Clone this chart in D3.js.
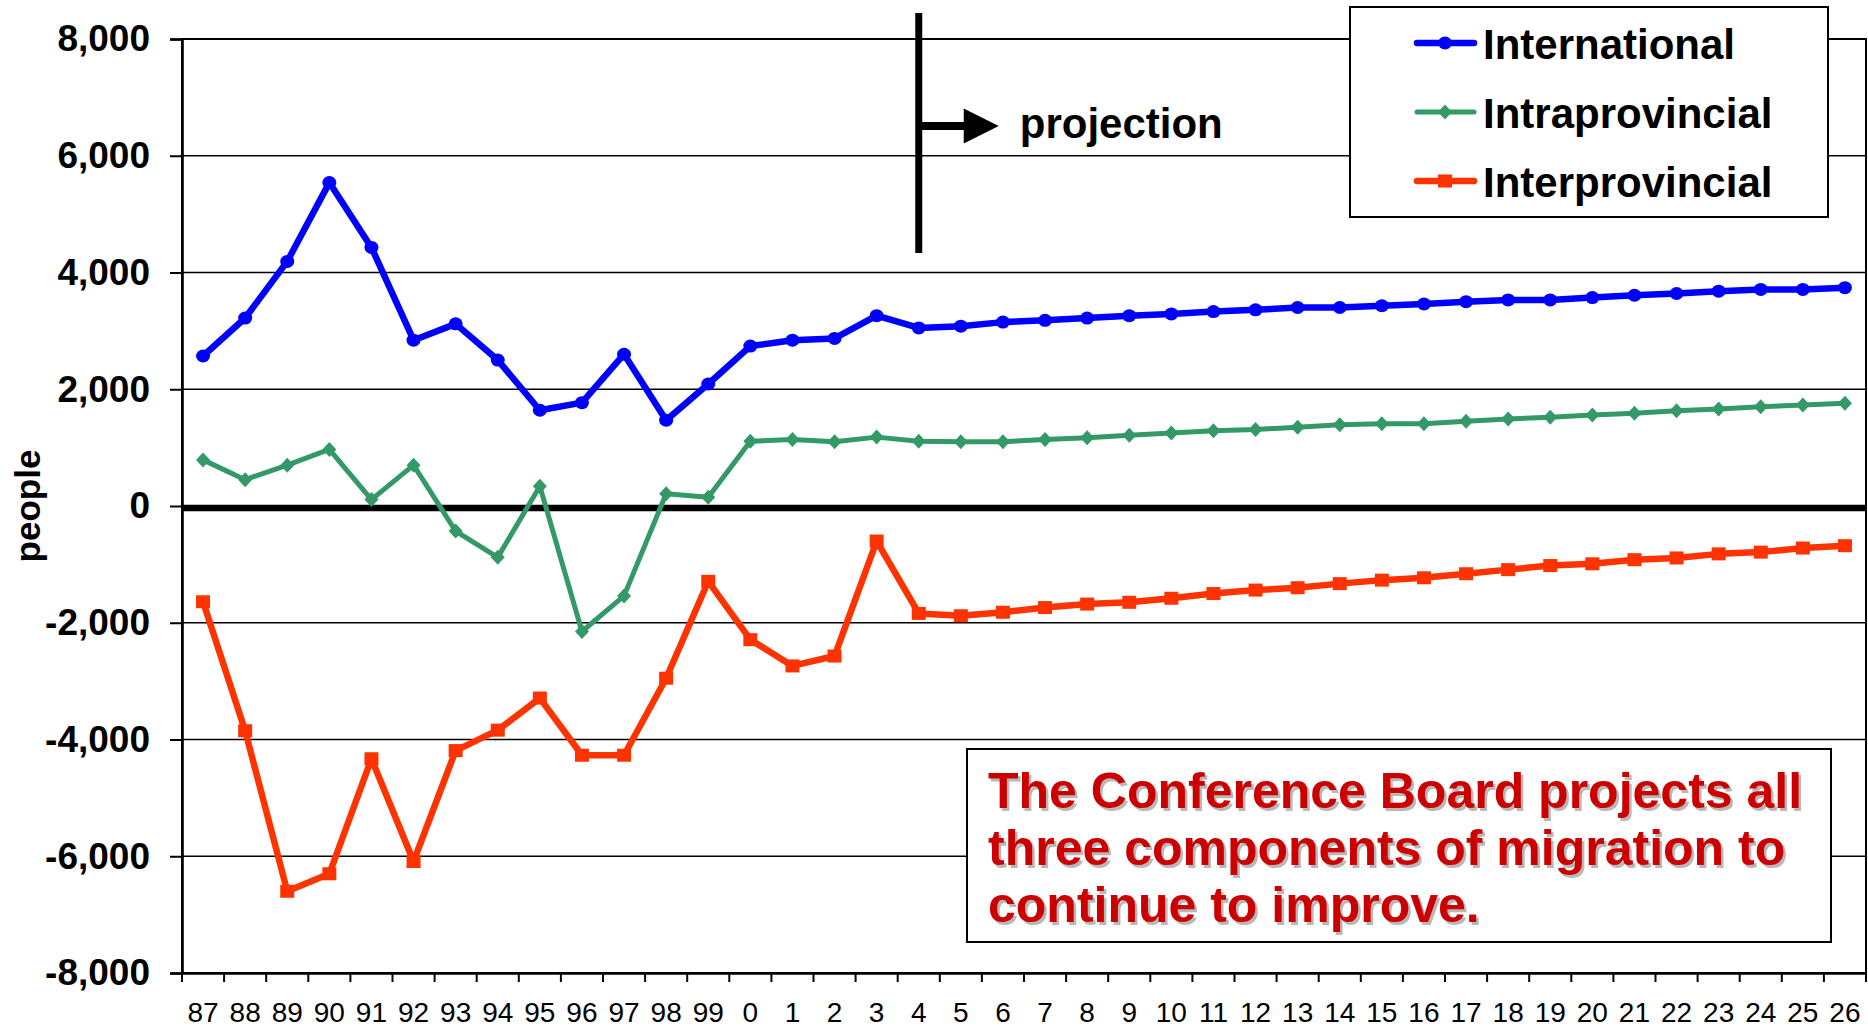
<!DOCTYPE html>
<html>
<head>
<meta charset="utf-8">
<script src="https://d3js.org/d3.v7.min.js"></script>
<style>
  body { margin: 0; background: #fff; }
  text { font-family: "Liberation Sans", Arial, sans-serif; }
</style>
</head>
<body>
<div id="chart"></div>
<script>
// Asks JavaScript to show more errors.
"use strict";

/*
 * # Data
 * Net migration by component, one value per year (87..26).
 */
var years = ["87", "88", "89", "90", "91", "92", "93", "94", "95", "96", "97", "98", "99",
             "0", "1", "2", "3", "4", "5", "6", "7", "8", "9", "10", "11", "12", "13",
             "14", "15", "16", "17", "18", "19", "20", "21", "22", "23", "24", "25", "26"];

var international = [2570, 3220, 4190, 5540, 4430, 2840, 3120, 2500, 1640, 1770, 2600, 1470, 2090,
                     2740, 2840, 2870, 3260, 3050, 3080, 3150, 3180, 3220, 3260, 3290, 3330, 3360, 3400,
                     3400, 3430, 3460, 3500, 3530, 3530, 3570, 3610, 3640, 3680, 3710, 3710, 3740];

var intraprovincial = [790, 450, 700, 970, 110, 700, -430, -880, 340, -2150, -1540, 210, 150,
                       1110, 1140, 1100, 1180, 1110, 1100, 1100, 1140, 1170, 1210, 1250, 1290, 1310, 1350,
                       1390, 1410, 1410, 1450, 1490, 1520, 1560, 1590, 1630, 1660, 1700, 1730, 1760];

var interprovincial = [-1640, -3850, -6600, -6300, -4330, -6090, -4190, -3840, -3290, -4270, -4270, -2950, -1290,
                       -2290, -2740, -2570, -600, -1840, -1880, -1820, -1740, -1680, -1650, -1580, -1500, -1440, -1400,
                       -1330, -1270, -1230, -1160, -1090, -1020, -990, -920, -890, -820, -790, -720, -680];

var yTicks = [-8000, -6000, -4000, -2000, 0, 2000, 4000, 6000, 8000];

var seriesNames = ["International", "Intraprovincial", "Interprovincial"];
var projectionStart = "4";
var noteLines = ["The Conference Board projects all",
                 "three components of migration to",
                 "continue to improve."];

/*
 * # Boilerplate Code for d3.js
 */
var margin = { top: 39, right: 2, bottom: 54, left: 182 },
    width = 1868 - margin.left - margin.right,
    height = 1027 - margin.top - margin.bottom;

var root = d3.select("#chart")
             .append("svg")
             .attr("width", 1868)
             .attr("height", 1027);

var svg = root.append("g")
              .attr("transform", "translate(" + margin.left + "," + margin.top + ")");

/*
 * # Scales
 */
var xScale = d3.scaleBand()
               .domain(years)
               .range([0, width])
               .padding(0);

var yScale = d3.scaleLinear()
               .domain([-8000, 8000])
               .range([height, 0]);

var xMid = function (d) { return xScale(d) + xScale.bandwidth() / 2; };

/*
 * # Grid lines and frame
 */
svg.append("g")
   .selectAll("line")
   .data(yTicks)
   .enter()
   .append("line")
   .attr("x1", 0)
   .attr("x2", width)
   .attr("y1", function (d) { return yScale(d); })
   .attr("y2", function (d) { return yScale(d); })
   .attr("stroke", "#000")
   .attr("stroke-width", 1.6);

svg.append("rect")
   .attr("x", 0).attr("y", 0)
   .attr("width", width).attr("height", height)
   .attr("fill", "none")
   .attr("stroke", "#000")
   .attr("stroke-width", 2);

/*
 * ## Y axis: outward ticks, bold labels
 */
var yAxis = d3.axisLeft(yScale)
              .tickValues(yTicks)
              .tickSize(12)
              .tickPadding(20)
              .tickFormat(function (d) { return d3.format(",")(d).replace("\u2212", "-"); });

svg.append("g")
   .attr("class", "axis")
   .call(yAxis)
   .call(function (g) {
     g.select(".domain").attr("stroke-width", 2.6);
     g.selectAll(".tick line").attr("stroke-width", 2);
     g.selectAll(".tick text")
      .attr("font-size", 37)
      .attr("font-weight", "bold")
      .attr("font-family", "'Liberation Sans', Arial, sans-serif")
      .attr("fill", "#000");
   });

/*
 * ## X axis: labels in the middle of each band, ticks on the band edges
 */
var xAxis = d3.axisBottom(xScale)
              .tickSize(0)
              .tickPadding(29);

svg.append("g")
   .attr("class", "axis")
   .attr("transform", "translate(0," + height + ")")
   .call(xAxis)
   .call(function (g) {
     g.select(".domain").attr("stroke-width", 2.6);
     g.selectAll(".tick text")
      .attr("font-size", 28)
      .attr("font-family", "'Liberation Sans', Arial, sans-serif")
      .attr("fill", "#000");
   });

svg.append("g")
   .selectAll("line")
   .data(years.concat(["end"]))
   .enter()
   .append("line")
   .attr("x1", function (d) { return d === "end" ? width : xScale(d); })
   .attr("x2", function (d) { return d === "end" ? width : xScale(d); })
   .attr("y1", height)
   .attr("y2", height + 9)
   .attr("stroke", "#000")
   .attr("stroke-width", 2);

// thick zero line
svg.append("line")
   .attr("x1", 0)
   .attr("x2", width)
   .attr("y1", yScale(0) + 2)
   .attr("y2", yScale(0) + 2)
   .attr("stroke", "#000")
   .attr("stroke-width", 6.5);

// y axis title
root.append("text")
    .attr("transform", "translate(40," + (margin.top + yScale(0)) + ") rotate(-90)")
    .attr("text-anchor", "middle")
    .attr("font-size", 35)
    .attr("font-weight", "bold")
    .text("people");

/*
 * # Visual Encodings
 */
var series = [
  { name: seriesNames[0], values: international,   color: "#0000FF", width: 6.5, shape: "circle" },
  { name: seriesNames[1], values: intraprovincial, color: "#339966", width: 5,   shape: "diamond" },
  { name: seriesNames[2], values: interprovincial, color: "#FF3300", width: 6.5, shape: "square" }
];

var drawMarker = function (sel, shape, color) {
  if (shape === "circle") {
    sel.append("ellipse").attr("rx", 7).attr("ry", 6.5).attr("fill", color);
  } else if (shape === "diamond") {
    sel.append("path").attr("d", "M0,-7.5L7,0L0,7.5L-7,0Z").attr("fill", color);
  } else {
    sel.append("rect").attr("x", -7).attr("y", -6.5).attr("width", 14).attr("height", 13).attr("fill", color);
  }
};

var line = d3.line()
             .x(function (d, i) { return xMid(years[i]); })
             .y(function (d) { return yScale(d); });

series.forEach(function (s) {
  svg.append("path")
     .datum(s.values)
     .attr("d", line)
     .attr("fill", "none")
     .attr("stroke", s.color)
     .attr("stroke-width", s.width)
     .attr("stroke-linejoin", "round");

  svg.append("g")
     .selectAll("g")
     .data(s.values)
     .enter()
     .append("g")
     .attr("transform", function (d, i) { return "translate(" + xMid(years[i]) + "," + yScale(d) + ")"; })
     .each(function () { drawMarker(d3.select(this), s.shape, s.color); });
});

/*
 * # Projection marker
 */
var px = xMid(projectionStart);
var proj = svg.append("g").attr("transform", "translate(" + px + ",0)");

proj.append("line")
    .attr("x1", 0).attr("x2", 0)
    .attr("y1", -26).attr("y2", 214)
    .attr("stroke", "#000")
    .attr("stroke-width", 7);

proj.append("line")
    .attr("x1", 0).attr("x2", 47)
    .attr("y1", 87).attr("y2", 87)
    .attr("stroke", "#000")
    .attr("stroke-width", 8);

proj.append("path")
    .attr("d", "M45,69.5L80,87L45,104.5Z")
    .attr("fill", "#000");

proj.append("text")
    .attr("x", 101)
    .attr("y", 99)
    .attr("font-size", 42)
    .attr("font-weight", "bold")
    .text("projection");

/*
 * # Legend
 */
var legend = root.append("g");

legend.append("rect")
      .attr("x", 1350).attr("y", 7)
      .attr("width", 478).attr("height", 210)
      .attr("fill", "#fff")
      .attr("stroke", "#000")
      .attr("stroke-width", 2);

var legendItem = legend.selectAll("g.item")
                       .data(series)
                       .enter()
                       .append("g")
                       .attr("class", "item")
                       .attr("transform", function (d, i) { return "translate(0," + (43 + i * 69) + ")"; });

legendItem.append("line")
          .attr("x1", 1417).attr("x2", 1474)
          .attr("y1", 0).attr("y2", 0)
          .attr("stroke", function (d) { return d.color; })
          .attr("stroke-width", function (d) { return d.width; })
          .attr("stroke-linecap", "round");

legendItem.append("g")
          .attr("transform", "translate(1445,0)")
          .each(function (d) { drawMarker(d3.select(this), d.shape, d.color); });

legendItem.append("text")
          .attr("x", 1483)
          .attr("y", 16)
          .attr("font-size", 42)
          .attr("font-weight", "bold")
          .text(function (d) { return d.name; });

/*
 * # Note box
 */
var note = root.append("g");

note.append("rect")
    .attr("x", 967).attr("y", 749)
    .attr("width", 864).attr("height", 193)
    .attr("fill", "#fff")
    .attr("stroke", "#000")
    .attr("stroke-width", 2);

[{ dx: 2.5, dy: 2.5, fill: "#b8b8b8" }, { dx: 0, dy: 0, fill: "#CC0000" }].forEach(function (layer) {
  note.append("g")
      .selectAll("text")
      .data(noteLines)
      .enter()
      .append("text")
      .attr("x", 988 + layer.dx)
      .attr("y", function (d, i) { return 808 + i * 57 + layer.dy; })
      .attr("font-size", 50)
      .attr("font-weight", "bold")
      .attr("fill", layer.fill)
      .text(function (d) { return d; });
});
</script>
</body>
</html>
